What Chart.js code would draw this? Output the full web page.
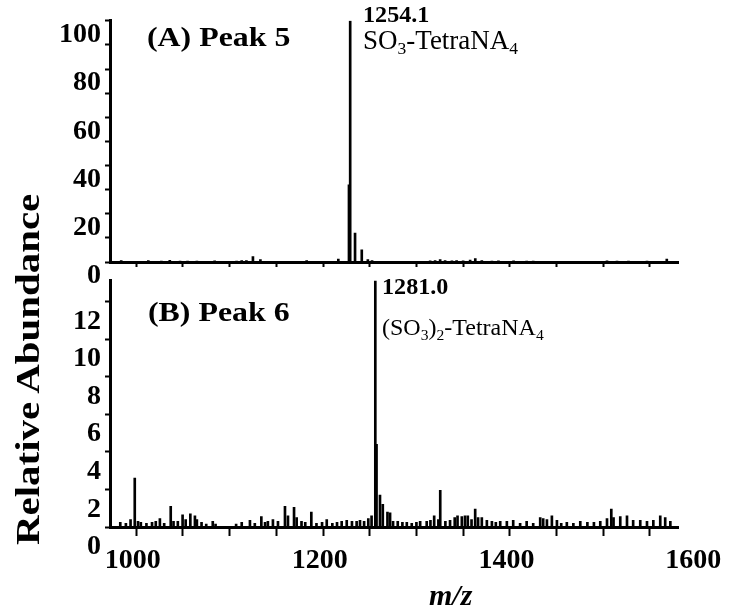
<!DOCTYPE html>
<html>
<head>
<meta charset="utf-8">
<script src="https://cdn.jsdelivr.net/npm/chart.js@4/dist/chart.umd.min.js"></script>
<style>
    html, body { margin: 0; padding: 0; background: #fff; }
    #wrap { position: relative; width: 729px; height: 611px; overflow: hidden; }
    canvas { position: absolute; left: 0; }
    #cvTop { top: 0; }
    #cvBot { top: 260px; }
    .lbl { position: absolute; font-family: 'Liberation Serif', serif; color: #000; line-height: 1; white-space: nowrap; transform-origin: 0 0; }
    .b { font-weight: bold; }
    sub { font-size: 0.65em; vertical-align: -0.3em; line-height: 0; }
</style>
</head>
<body>
<div id="wrap">
    <canvas id="cvTop" width="729" height="300"></canvas>
    <canvas id="cvBot" width="729" height="351"></canvas>

    <div class="lbl b" style="left:147px; top:24px; font-size:27px; transform:scaleX(1.18);">(A) Peak 5</div>
    <div class="lbl b" style="left:363px; top:3px; font-size:23px; transform:scaleX(1.05);">1254.1</div>
    <div class="lbl" style="left:363px; top:27px; font-size:27px;">SO<sub>3</sub>-TetraNA<sub>4</sub></div>

    <div class="lbl b" style="left:148px; top:299px; font-size:27px; transform:scaleX(1.18);">(B) Peak 6</div>
    <div class="lbl b" style="left:382px; top:275px; font-size:23px; transform:scaleX(1.05);">1281.0</div>
    <div class="lbl" style="left:382px; top:315px; font-size:24px;">(SO<sub>3</sub>)<sub>2</sub>-TetraNA<sub>4</sub></div>

    <div class="lbl b" style="left:12px; top:545px; font-size:33px; transform:rotate(-90deg) scaleX(1.24);">Relative Abundance</div>
    <div class="lbl b" style="left:429px; top:580px; font-size:30px; font-style:italic;">m/z</div>
</div>

<script>
// pic A: Peak 5 (m/z, % abundance)
var mzA = [1009, 1038, 1052, 1061, 1072, 1080, 1090, 1109, 1132.5, 1138, 1143, 1150, 1158, 1168, 1189.6, 1207.5, 1241.4,
    1252.8, 1254.1, 1259.3, 1266.5, 1273, 1277.5,
    1339.7, 1345, 1350.4, 1355.7, 1363, 1368, 1375, 1382.5, 1388, 1395, 1405.8, 1412.8, 1429, 1443, 1450, 1473.6,
    1514.6, 1529, 1539.7, 1552, 1571.8, 1593];
var intA = [0.6, 0.6, 0.4, 0.7, 0.4, 0.4, 0.4, 0.5, 0.4, 0.6, 0.6, 2.2, 1.0, 0.3, 0.3, 0.6, 1.2,
    32, 100, 12, 5, 1.0, 0.6,
    0.5, 0.6, 1.0, 0.6, 0.5, 0.6, 0.5, 0.8, 1.4, 0.6, 0.4, 0.5, 0.5, 0.4, 0.4, 0.3,
    0.3, 0.5, 0.4, 0.4, 0.4, 1.2];

// pic B: Peak 6
var mzB = [1008, 1014, 1019, 1023.5, 1027, 1030, 1036, 1042, 1046, 1050.4, 1055, 1062, 1065, 1069.6, 1074.7, 1078, 1083, 1087.9, 1090, 1095,
    1100, 1107, 1110, 1132, 1138, 1146.8, 1152, 1159, 1163, 1166, 1171.4, 1176.8, 1184.3, 1187.5, 1194, 1196.8, 1202, 1206, 1212.5, 1218,
    1224, 1229, 1235, 1240, 1245, 1250.4, 1256, 1261, 1264.6, 1269, 1273.5, 1277, 1281.0, 1282.3, 1286, 1289, 1294, 1296.8, 1300, 1305,
    1310, 1314.7, 1320, 1325, 1329, 1336, 1340, 1344, 1348.5, 1350.5, 1356, 1361, 1366, 1369, 1373.6, 1377, 1380, 1384, 1387.9, 1391,
    1395, 1400.4, 1405.8, 1410, 1414.7, 1421.8, 1428.6, 1436, 1443, 1450, 1457.5, 1460.7, 1464.7, 1470, 1475.4, 1480, 1486, 1493, 1500.4, 1508,
    1515, 1521.8, 1529, 1533.6, 1536, 1543.2, 1550.4, 1557, 1564.6, 1571.8, 1578.6, 1586, 1591.3, 1596.8];
var intB = [0.25, 0.2, 0.4, 2.6, 0.3, 0.25, 0.2, 0.25, 0.3, 0.45, 0.2, 1.1, 0.3, 0.3, 0.65, 0.4, 0.7, 0.6, 0.4, 0.25,
    0.15, 0.3, 0.15, 0.15, 0.25, 0.35, 0.2, 0.55, 0.25, 0.3, 0.4, 0.3, 1.1, 0.6, 1.05, 0.5, 0.3, 0.25, 0.8, 0.2,
    0.25, 0.4, 0.2, 0.25, 0.3, 0.35, 0.3, 0.3, 0.35, 0.3, 0.45, 0.6, 100, 4.4, 1.7, 1.2, 0.8, 0.75, 0.3, 0.3,
    0.25, 0.25, 0.2, 0.25, 0.3, 0.3, 0.35, 0.6, 0.4, 1.95, 0.3, 0.35, 0.5, 0.6, 0.55, 0.6, 0.6, 0.4, 0.95, 0.5,
    0.5, 0.35, 0.3, 0.25, 0.3, 0.3, 0.35, 0.2, 0.3, 0.2, 0.5, 0.45, 0.4, 0.6, 0.35, 0.2, 0.25, 0.2, 0.3, 0.25,
    0.25, 0.3, 0.45, 0.95, 0.5, 0.55, 0.6, 0.35, 0.35, 0.3, 0.35, 0.6, 0.5, 0.3];

var mzRange = [997, 1605];
var ticksA = [0, 20, 40, 60, 80, 100];
var ticksB = [0, 2, 4, 6, 8, 10, 12];
var ticksX = [1000, 1200, 1400, 1600];

var FONT = { family: 'Liberation Serif', size: 28, weight: 'bold' };

function toPoints(xs, ys) {
    return xs.map(function (x, i) { return { x: x, y: ys[i] }; });
}

function makeChart(id, xs, ys, yMax, yStep, yLabels, showX, padTop, bottomPx, canvasH) {
    return new Chart(document.getElementById(id), {
        type: 'bar',
        data: {
            datasets: [{
                data: toPoints(xs, ys),
                backgroundColor: '#000',
                borderWidth: 0,
                barThickness: 2
            }]
        },
        options: {
            responsive: false,
            animation: false,
            layout: { padding: { top: padTop, right: 51, left: 0, bottom: 0 } },
            plugins: { legend: { display: false }, tooltip: { enabled: false } },
            scales: {
                x: {
                    type: 'linear',
                    min: mzRange[0],
                    max: mzRange[1],
                    offset: false,
                    border: { display: true, color: '#000', width: 3 },
                    grid: { drawOnChartArea: false, drawTicks: true, tickLength: showX ? 9 : 5, tickColor: '#000', tickWidth: 2 },
                    ticks: {
                        display: showX,
                        stepSize: 50,
                        includeBounds: false,
                        maxRotation: 0,
                        autoSkip: false,
                        padding: 8,
                        labelOffset: 20,
                        color: '#000',
                        font: FONT,
                        callback: function (v) { return ticksX.indexOf(v) >= 0 ? String(v) : ''; }
                    },
                    afterFit: function (s) { s.height = canvasH - bottomPx; }
                },
                y: {
                    min: 0,
                    max: yMax,
                    border: { display: true, color: '#000', width: 3 },
                    grid: { drawOnChartArea: false, drawTicks: true, tickLength: 5, tickColor: '#000', tickWidth: 2 },
                    ticks: {
                        stepSize: yStep,
                        includeBounds: false,
                        autoSkip: false,
                        padding: 4,
                        labelOffset: showX ? 20 : 14,
                        color: '#000',
                        font: FONT,
                        callback: function (v) { return yLabels.indexOf(v) >= 0 ? String(v) : ''; }
                    },
                    afterFit: function (s) { s.width = 110; }
                }
            }
        }
    });
}

var topChart = makeChart('cvTop', mzA, intA, 100, 10, ticksA, false, 15, 262, 300);
var botChart = makeChart('cvBot', mzB, intB, 13.1, 2, ticksB, true, 17, 267, 351);
</script>
</body>
</html>
